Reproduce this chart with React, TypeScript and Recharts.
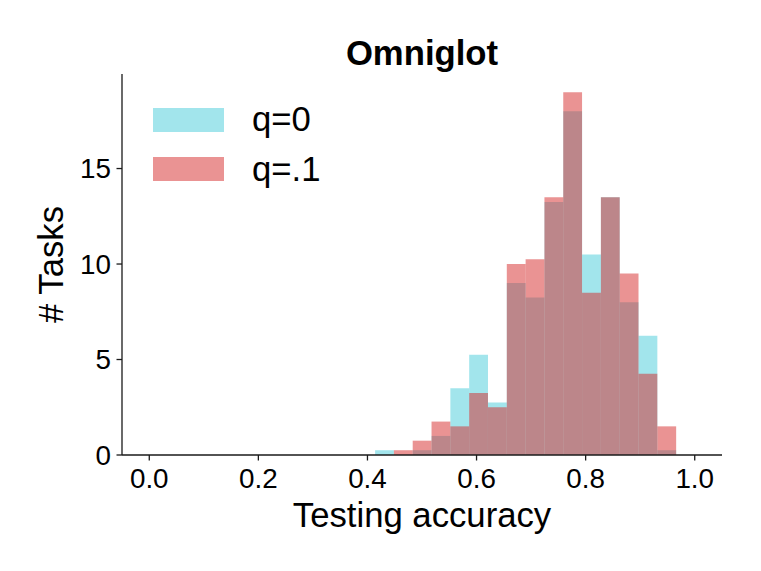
import React from "react";
import { BarChart, Bar, XAxis, YAxis, Legend, Label } from "recharts";

// Histogram bin centres (testing accuracy), bin width 0.0345
const binCenters = [
  0.43125, 0.46575, 0.50025, 0.53475, 0.56925, 0.60375, 0.63825, 0.67275,
  0.70725, 0.74175, 0.77625, 0.81075, 0.84525, 0.87975, 0.91425, 0.94875,
];
// # tasks per bin
const q0Counts = [
  0.25, 0, 0.25, 1, 3.5, 5.25, 2.75, 9, 8.25, 13.25, 18, 10.5, 13.5, 8, 6.25, 0.25,
];
const q1Counts = [
  0, 0.25, 0.75, 1.75, 1.5, 3.25, 2.5, 10, 10.25, 13.5, 19, 8.5, 13.5, 9.5, 4.25, 1.5,
];
const xTicks = [0, 0.2, 0.4, 0.6, 0.8, 1.0];
const yTicks = [0, 5, 10, 15];
const seriesNames = ["q=0", "q=.1"];
const title = "Omniglot";
const xLabel = "Testing accuracy";
const yLabel = "# Tasks";

const data = binCenters.map((c, i) => ({ acc: c, q0: q0Counts[i], q1: q1Counts[i] }));

const FONT = '"Liberation Sans", Arial, sans-serif';
const CYAN = "#17becf";
const RED = "#d62728";
const AXIS = "#1a1a1a";
const seriesColors = [CYAN, RED];
const seriesOpacity = [0.4, 0.5];

const LegendContent = () => {
  return (
    <div style={{ display: "flex", flexDirection: "column" }}>
      {seriesNames.map((name, i) => (
        <div
          key={name}
          style={{ display: "flex", alignItems: "center", height: 49.5 }}
        >
          <div
            style={{
              width: 71,
              height: 24,
              background: seriesColors[i],
              opacity: seriesOpacity[i],
            }}
          />
          <span
            style={{
              marginLeft: 28,
              fontFamily: FONT,
              fontSize: 34.7,
              lineHeight: "34.7px",
              color: "#000",
            }}
          >
            {name}
          </span>
        </div>
      ))}
    </div>
  );
};

export default function App() {
  return (
    <div
      style={{
        position: "absolute",
        left: 0,
        top: 0,
        width: 761,
        height: 571,
        background: "#fff",
      }}
    >
      <BarChart
        width={761}
        height={571}
        data={data}
        margin={{ top: 74, right: 39, left: 0, bottom: 0 }}
        barGap="-100%"
        barCategoryGap={0}
      >
        <XAxis
          dataKey="acc"
          type="number"
          domain={[-0.05, 1.05]}
          allowDataOverflow
          ticks={xTicks}
          tickFormatter={(v: number) => v.toFixed(1)}
          height={116}
          tickSize={5.5}
          tickMargin={7.5}
          stroke={AXIS}
          strokeWidth={1.3}
          tick={{ fill: "#000", fontSize: 27.8, fontFamily: FONT }}
          tickLine={{ stroke: AXIS, strokeWidth: 1.3 }}
        >
          <Label
            value={xLabel}
            position="insideBottom"
            offset={44.5}
            fill="#000"
            fontSize={34.7}
            fontFamily={FONT}
          />
        </XAxis>
        <YAxis
          type="number"
          domain={[0, 19.95]}
          allowDataOverflow
          ticks={yTicks}
          width={122}
          tickSize={5.5}
          tickMargin={5.5}
          stroke={AXIS}
          strokeWidth={1.3}
          tick={{ fill: "#000", fontSize: 27.8, fontFamily: FONT }}
          tickLine={{ stroke: AXIS, strokeWidth: 1.3 }}
        >
          <Label
            content={(p: any) => {
              const vb = p.viewBox || { x: 0, y: 74, width: 122, height: 381 };
              const cx = vb.x + 63;
              const cy = vb.y + vb.height / 2;
              return (
                <text
                  x={cx}
                  y={cy}
                  transform={`rotate(-90 ${cx} ${cy})`}
                  textAnchor="middle"
                  fill="#000"
                  fontSize={34.7}
                  fontFamily={FONT}
                >
                  {yLabel}
                </text>
              );
            }}
          />
        </YAxis>
        <Legend
          layout="horizontal"
          verticalAlign="middle"
          align="center"
          wrapperStyle={{ left: 153, top: 95, width: "auto", height: "auto" }}
          content={<LegendContent />}
        />
        <Bar
          dataKey="q0"
          name={seriesNames[0]}
          fill={CYAN}
          fillOpacity={seriesOpacity[0]}
          barSize={18.8}
          isAnimationActive={false}
        />
        <Bar
          dataKey="q1"
          name={seriesNames[1]}
          fill={RED}
          fillOpacity={seriesOpacity[1]}
          barSize={18.8}
          isAnimationActive={false}
        />
      </BarChart>
      <svg
        width={761}
        height={571}
        style={{ position: "absolute", left: 0, top: 0, pointerEvents: "none" }}
      >
        <text
          x={422}
          y={64.5}
          textAnchor="middle"
          fontFamily={FONT}
          fontWeight="bold"
          fontSize={34.7}
          fill="#000"
        >
          {title}
        </text>
      </svg>
    </div>
  );
}
